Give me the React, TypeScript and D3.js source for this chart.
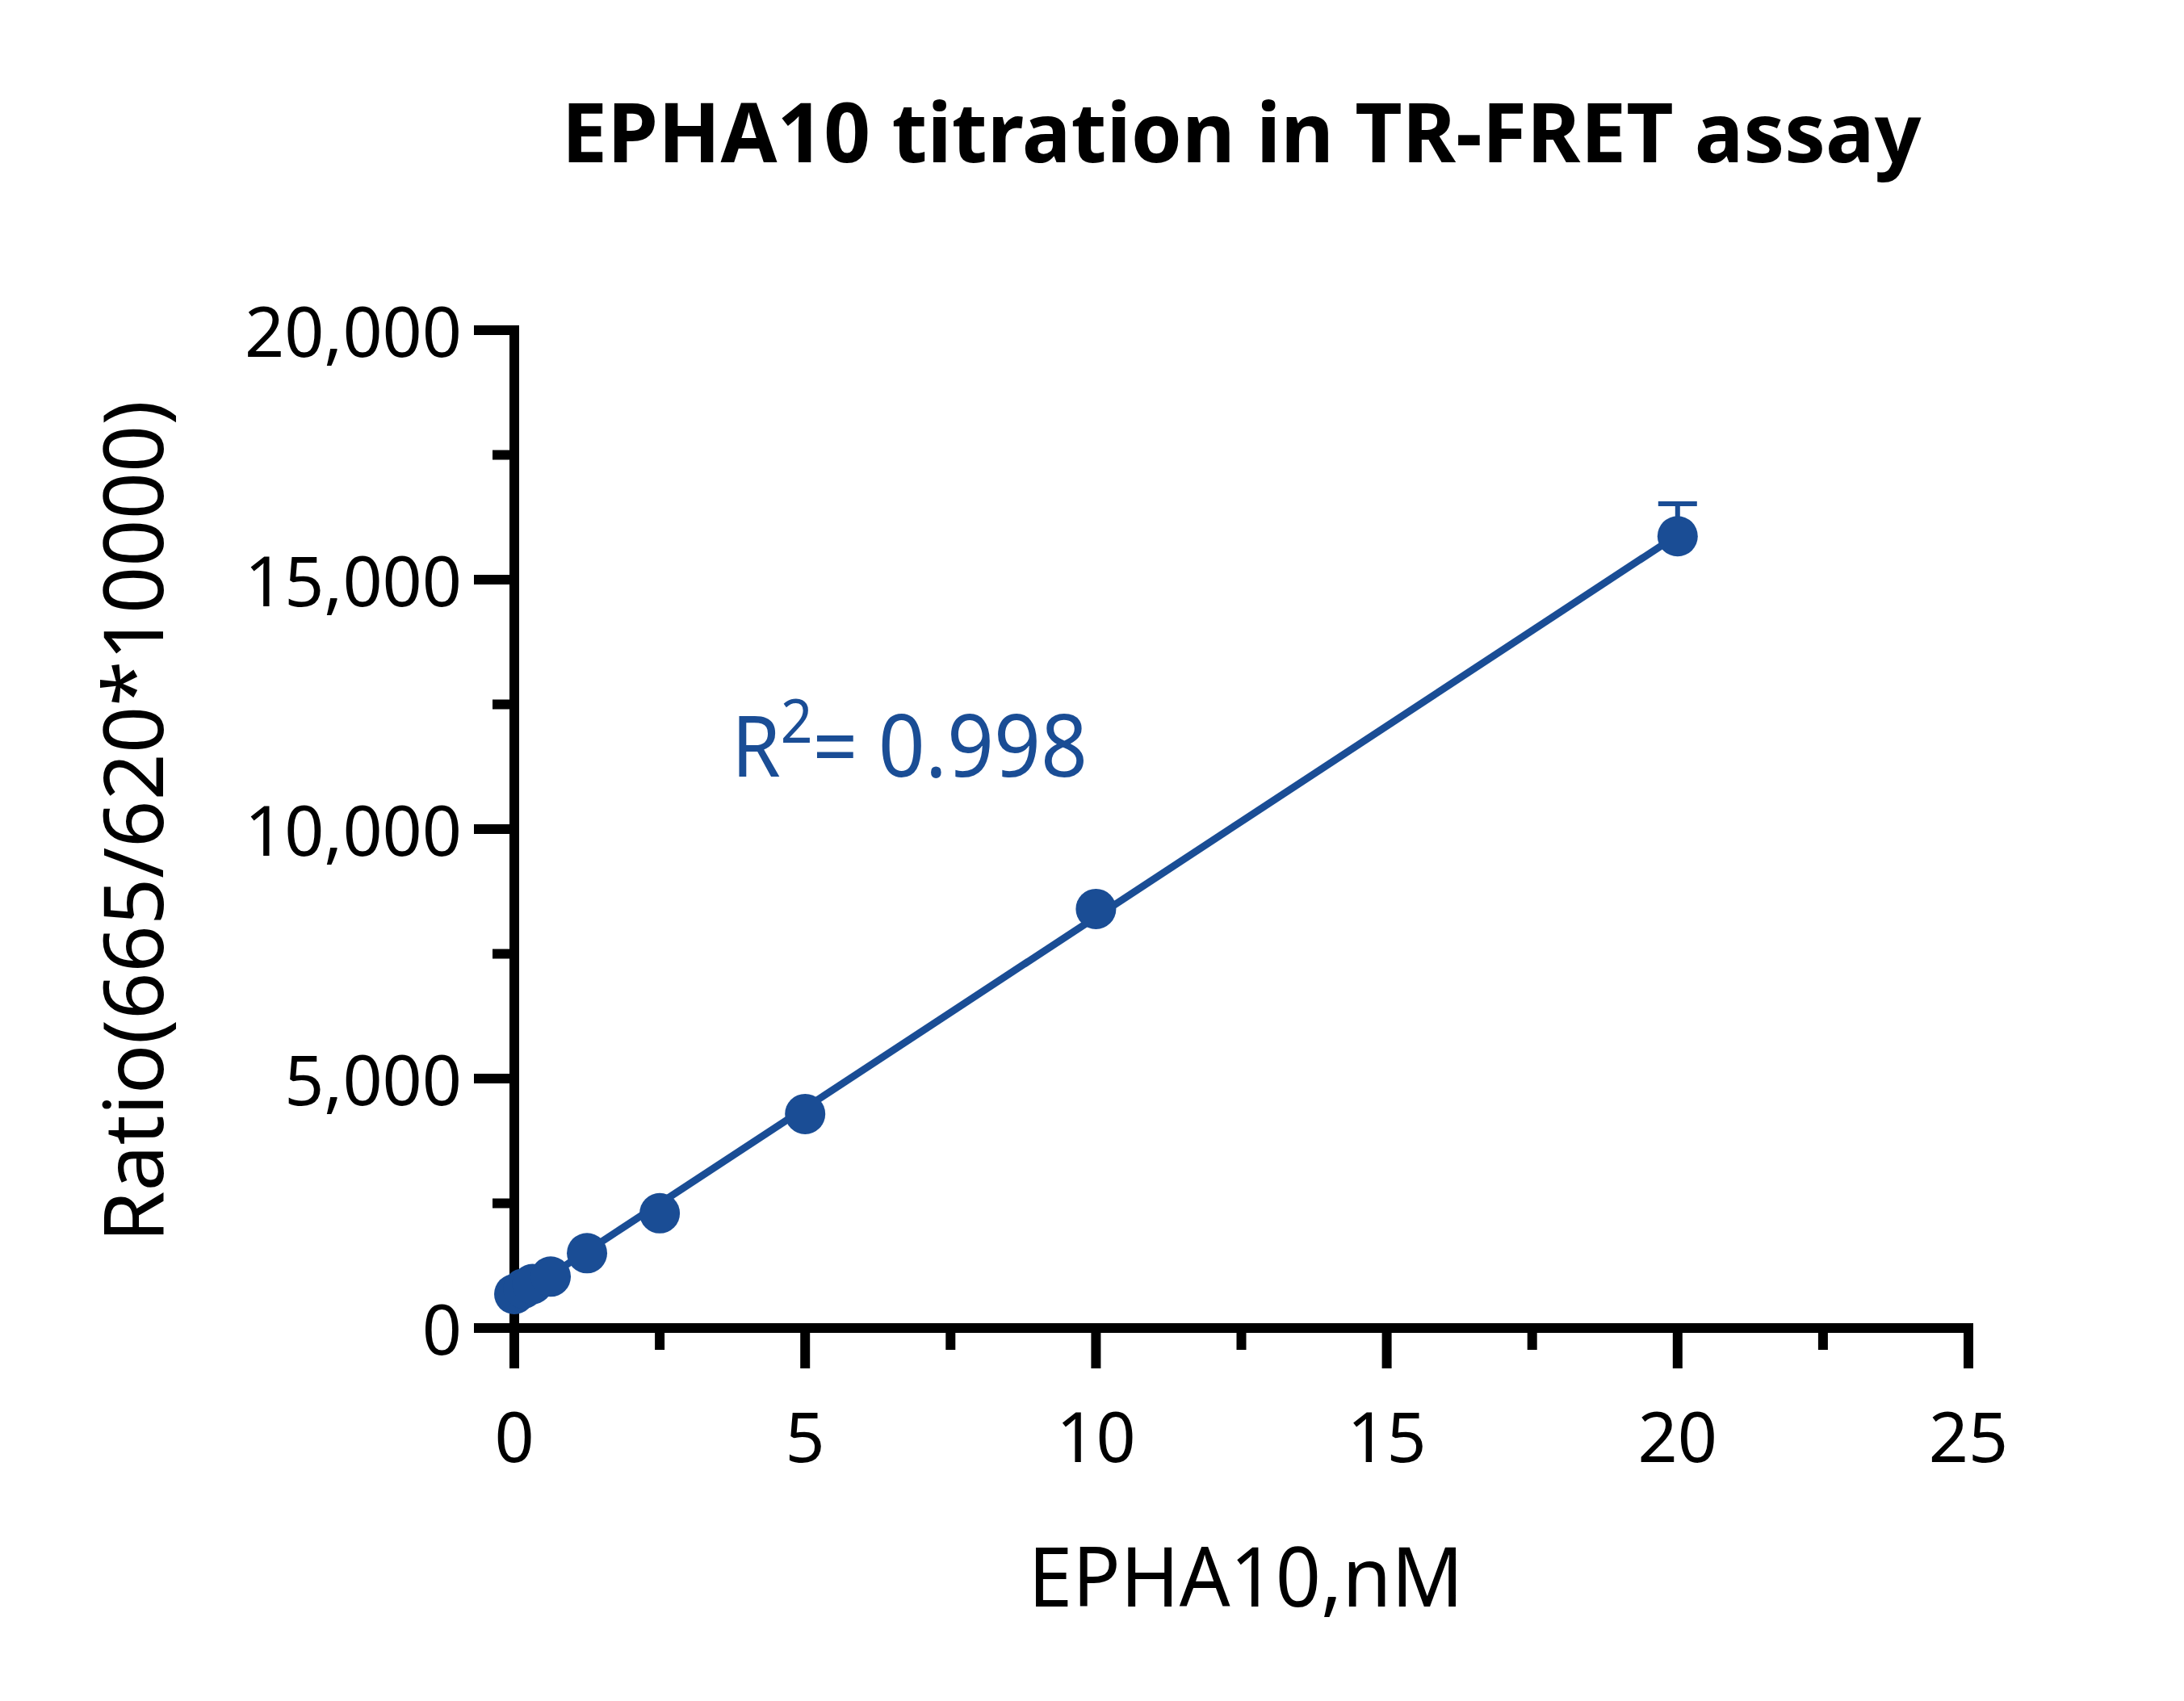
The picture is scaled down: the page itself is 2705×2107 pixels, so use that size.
import React from 'react';
import { scaleLinear, range, format, line } from 'd3';

// EPHA10 titration, TR-FRET ratio (665/620*10000)
const conc = [0, 0.15625, 0.3125, 0.625, 1.25, 2.5, 5, 10, 20];
const ratio = [680, 790, 880, 1030, 1500, 2300, 4290, 8400, 15870];
const ratioSD = [0, 0, 0, 0, 0, 0, 0, 0, 650];

const xTicks = [0, 5, 10, 15, 20, 25];
const yTicks = [0, 5000, 10000, 15000, 20000];
const rSquared = '0.998';

const title = 'EPHA10 titration in TR-FRET assay';
const xTitle = 'EPHA10,nM';
const yTitle = 'Ratio(665/620*10000)';

const W = 2705;
const H = 2107;
const BLUE = '#1a4d95';
const FONT = '"Noto Sans", "Open Sans", sans-serif';

const App: React.FC = () => {
  const x = scaleLinear([0, 25], [637, 2438]);
  const y = scaleLinear([0, 20000], [1645, 409]);

  // least squares fit
  const n = conc.length;
  const mx = conc.reduce((a, b) => a + b, 0) / n;
  const my = ratio.reduce((a, b) => a + b, 0) / n;
  let sxy = 0, sxx = 0;
  conc.forEach((c, i) => { sxy += (c - mx) * (ratio[i] - my); sxx += (c - mx) ** 2; });
  const slope = sxy / sxx;
  const icpt = my - slope * mx;
  const fitX = [conc[0], conc[n - 1]];
  const fitLine = line<number>().x(d => x(d)).y(d => y(icpt + slope * d));

  const xMinor = range(2.5, 25, 5);
  const yMinor = range(2500, 20000, 5000);
  const fmt = format(',');

  const axisW = 12;
  const major = 50;
  const minor = 27;

  return (
    <svg width={W} height={H} style={{ position: 'absolute', left: 0, top: 0, background: '#fff' }} fontFamily={FONT}>
      <rect width={W} height={H} fill="#fff" />

      <text x={(x(0) + x(25)) / 2} y={201} textAnchor="middle" fontSize={102} fontWeight={700}
        textLength={1684} lengthAdjust="spacingAndGlyphs">{title}</text>

      {/* axes */}
      <g stroke="#000" strokeWidth={axisW}>
        <line x1={x(0)} x2={x(0)} y1={y(20000) - axisW / 2} y2={y(0) + major} />
        <line x1={x(0) - major} x2={x(25) + axisW / 2} y1={y(0)} y2={y(0)} />
        {yTicks.map(t => <line key={'yt' + t} x1={x(0) - major} x2={x(0)} y1={y(t)} y2={y(t)} />)}
        {yMinor.map(t => <line key={'ym' + t} x1={x(0) - minor} x2={x(0)} y1={y(t)} y2={y(t)} />)}
        {xTicks.map(t => <line key={'xt' + t} x1={x(t)} x2={x(t)} y1={y(0)} y2={y(0) + major} />)}
        {xMinor.map(t => <line key={'xm' + t} x1={x(t)} x2={x(t)} y1={y(0)} y2={y(0) + minor} />)}
      </g>

      <g fontSize={86} fill="#000">
        {yTicks.map(t => (
          <text key={'yl' + t} x={572} y={y(t) + 33} textAnchor="end">{fmt(t)}</text>
        ))}
        {xTicks.map(t => (
          <text key={'xl' + t} x={x(t)} y={1811} textAnchor="middle">{t}</text>
        ))}
      </g>

      <text x={1543} y={1990} textAnchor="middle" fontSize={102} textLength={539} lengthAdjust="spacingAndGlyphs">{xTitle}</text>
      <text transform={`translate(202, ${(496 + 1539) / 2}) rotate(-90)`} textAnchor="middle" fontSize={102}
        textLength={1043} lengthAdjust="spacingAndGlyphs">{yTitle}</text>

      {/* fit */}
      <path d={fitLine(fitX) || ''} fill="none" stroke={BLUE} strokeWidth={9} />

      {/* error bars */}
      <g stroke={BLUE} strokeWidth={6}>
        {conc.map((c, i) => ratioSD[i] > 0 && (
          <g key={'e' + i}>
            <line x1={x(c)} x2={x(c)} y1={y(ratio[i])} y2={y(ratio[i] + ratioSD[i])} />
            <line x1={x(c) - 24} x2={x(c) + 24} y1={y(ratio[i] + ratioSD[i])} y2={y(ratio[i] + ratioSD[i])} />
          </g>
        ))}
      </g>

      {conc.map((c, i) => <circle key={'p' + i} cx={x(c)} cy={y(ratio[i])} r={25} fill={BLUE} />)}

      <text x={906} y={962} fontSize={104} fill={BLUE} textLength={441} lengthAdjust="spacingAndGlyphs">
        R<tspan fontSize={74} dy={-42}>2</tspan><tspan dy={42}>= </tspan><tspan fontSize={108}>{rSquared}</tspan>
      </text>
    </svg>
  );
};

export default App;
